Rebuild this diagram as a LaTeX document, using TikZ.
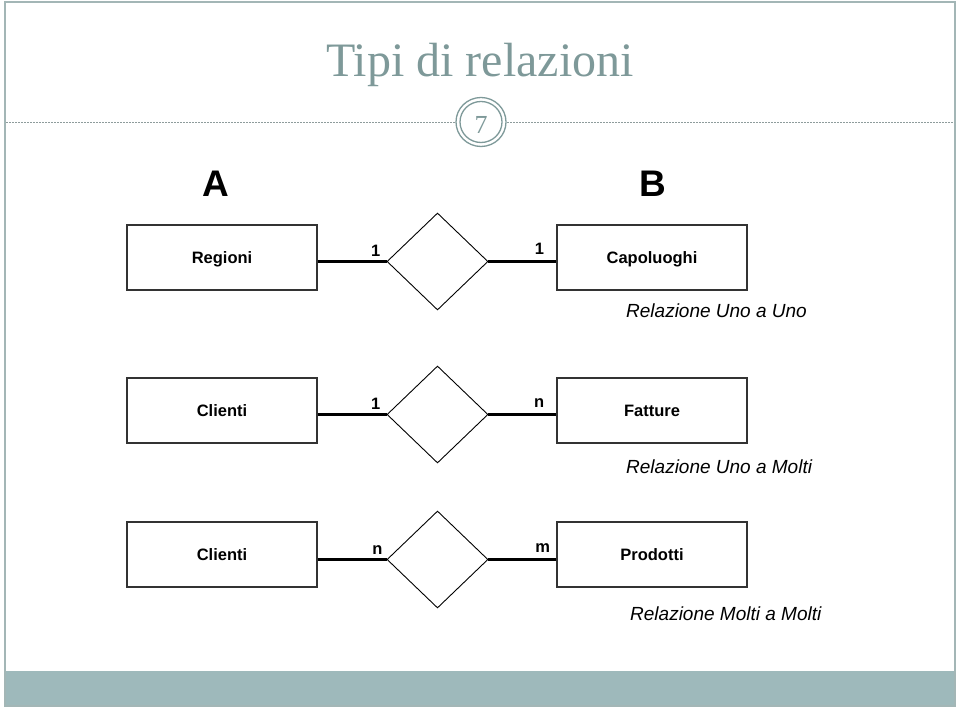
\documentclass[tikz,border=0pt]{standalone}
\usepackage{fontspec}
\setmainfont{Liberation Serif}
\newfontfamily\arialfont{Liberation Sans}
\usepackage{xcolor}
\usepackage{tikz}
\usetikzlibrary{positioning,shapes.geometric}
\definecolor{frame}{HTML}{A3B6B6}
\definecolor{titlec}{HTML}{7E9999}
\definecolor{band}{HTML}{9EB9BB}
\definecolor{rule}{HTML}{8E9C9C}
\definecolor{boxline}{HTML}{333333}
\tikzset{
  entity/.style={draw=boxline, line width=1.3pt, minimum width=190pt, minimum height=65pt,
    inner sep=0pt, text height=14pt, text depth=2pt,
    font=\arialfont\bfseries\fontsize{16.5}{18}\selectfont},
  rel/.style={diamond, draw=black, line width=0.9pt, minimum width=101pt, minimum height=97pt, inner sep=0pt},
  conn/.style={draw=black, line width=3pt},
  card/.style={inner sep=0pt, font=\arialfont\bfseries\fontsize{16.5}{18}\selectfont},
  note/.style={anchor=west, inner sep=0pt, font=\arialfont\itshape\fontsize{19}{22}\selectfont},
  side/.style={font=\arialfont\bfseries\fontsize{37}{40}\selectfont},
}
\begin{document}
\begin{tikzpicture}[x=1pt,y=-1pt]
  \useasboundingbox (0,0) rectangle (960,708);
  % slide frame
  \fill[band] (6,671) rectangle (954,705);
  \draw[frame, line width=1.2pt] (5,2) rectangle (955,706);
  \node[text=titlec, font=\fontsize{48}{52}\selectfont] (title) at (480,65) {Tipi di relazioni};
  \draw[rule, line width=0.8pt, dash pattern=on 2pt off 1pt] (6,122) -- (455,122) (507,122) -- (954,122);
  \draw[titlec, line width=1.3pt] (481,122) ellipse (25 and 24.5);
  \draw[titlec, line width=1.3pt] (481,122) ellipse (21 and 20.5);
  \node[text=titlec, font=\fontsize{26}{28}\selectfont] (num) at (481,125) {7};
  \node[side] (A) at (216,184) {A};
  \node[side] (B) at (653,184) {B};

  % uno a uno
  \node[entity] (reg) at (222,257.5) {Regioni};
  \node[rel] (rel1) at (437.5,261.5) {};
  \node[entity] (cap) at (652,257.5) {Capoluoghi};
  \coordinate (j1) at (cap.west |- rel1.east);
  \draw[conn] (reg.east |- rel1.west) -- (rel1.west);
  \draw[conn] (rel1.east) -- (j1);
  \node[card, above left=5pt and 6pt of rel1.west] (c1a) {1};
  \node[card, above left=7pt and 12pt of j1] (c1b) {1};
  \node[note] (n1) at (626,311) {Relazione Uno a Uno};

  % uno a molti
  \node[entity] (cli) at (222,410.5) {Clienti};
  \node[rel] (rel2) at (437.5,414.5) {};
  \node[entity] (fat) at (652,410.5) {Fatture};
  \coordinate (j2) at (fat.west |- rel2.east);
  \draw[conn] (cli.east |- rel2.west) -- (rel2.west);
  \draw[conn] (rel2.east) -- (j2);
  \node[card, above left=5pt and 6pt of rel2.west] (c2a) {1};
  \node[card, above left=7pt and 12pt of j2] (c2b) {n};
  \node[note] (n2) at (626,467) {Relazione Uno a Molti};

  % molti a molti
  \node[entity] (cli2) at (222,554.5) {Clienti};
  \node[rel] (rel3) at (437.5,559.5) {};
  \node[entity] (prod) at (652,554.5) {Prodotti};
  \coordinate (j3) at (prod.west |- rel3.east);
  \draw[conn] (cli2.east |- rel3.west) -- (rel3.west);
  \draw[conn] (rel3.east) -- (j3);
  \node[card, above left=5pt and 4pt of rel3.west] (c3a) {n};
  \node[card, above left=7pt and 6pt of j3] (c3b) {m};
  \node[note] (n3) at (630,614) {Relazione Molti a Molti};
\end{tikzpicture}
\end{document}
